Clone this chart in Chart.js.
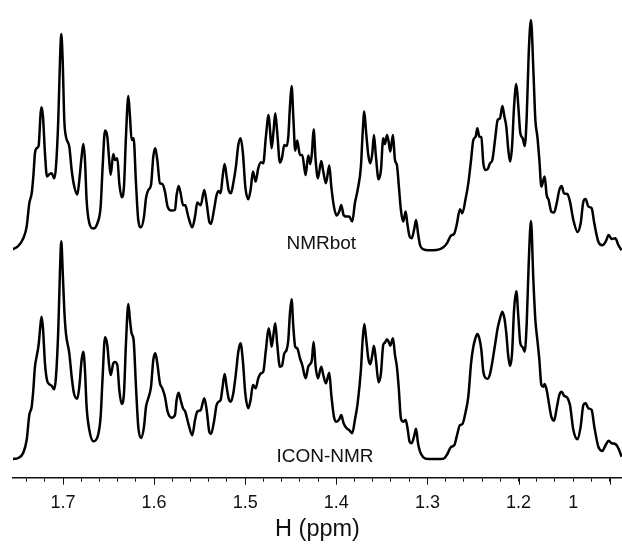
<!DOCTYPE html>
<html>
<head>
<meta charset="utf-8">
<title>NMRbot vs ICON-NMR</title>
<script src="https://cdn.jsdelivr.net/npm/chart.js@4"></script>
<style>
    html, body { margin: 0; padding: 0; background: #fff; }
    canvas { display: block; }
</style>
</head>
<body>
<canvas id="spectra" width="622" height="546"></canvas>
<script>
const ppm = [
    1.7553,1.7491,1.7436,1.7399,1.7370,1.7344,1.7326,1.7308,1.7290,1.7268,
    1.7246,1.7235,1.7220,1.7198,1.7176,1.7150,1.7125,1.7096,1.7077,1.7052,
    1.7033,1.7019,1.7004,1.6986,1.6968,1.6931,1.6905,1.6880,1.6843,1.6821,
    1.6796,1.6777,1.6759,1.6741,1.6711,1.6667,1.6620,1.6587,1.6565,1.6539,
    1.6514,1.6496,1.6477,1.6448,1.6430,1.6404,1.6382,1.6356,1.6331,1.6309,
    1.6283,1.6265,1.6247,1.6225,1.6199,1.6174,1.6144,1.6111,1.6089,1.6064,
    1.6034,1.6009,1.5987,1.5965,1.5936,1.5910,1.5881,1.5852,1.5808,1.5771,
    1.5753,1.5731,1.5709,1.5683,1.5658,1.5625,1.5581,1.5551,1.5526,1.5489,
    1.5449,1.5423,1.5394,
    1.5376,1.5343,1.5314,1.5292,1.5270,1.5248,1.5226,1.5204,1.5182,1.5157,
    1.5131,1.5102,1.5076,1.5051,1.5025,1.4999,1.4966,1.4941,1.4915,1.4886,
    1.4857,1.4827,1.4802,1.4773,1.4743,1.4725,1.4710,1.4688,1.4670,1.4648,
    1.4619,1.4597,1.4571,1.4546,1.4527,1.4509,1.4491,1.4472,1.4451,1.4429,
    1.4399,1.4374,1.4337,1.4308,1.4286,1.4268,1.4249,1.4227,1.4202,1.4165,
    1.4143,1.4114,1.4077,1.4055,1.4026,1.3997,1.3968,1.3946,1.3920,1.3887,
    1.3858,1.3825,1.3796,1.3766,1.3730,1.3711,1.3693,1.3675,1.3649,1.3627,
    1.3605,1.3587,1.3565,1.3536,1.3510,1.3485,1.3466,1.3444,1.3426,1.3408,
    1.3378,1.3356,1.3335,1.3313,1.3291,1.3265,1.3239,1.3221,1.3195,
    1.3173,1.3147,1.3125,1.3103,1.3081,1.3045,1.2990,1.2898,1.2825,1.2781,
    1.2745,1.2704,1.2679,1.2642,1.2617,1.2580,1.2551,1.2521,1.2496,1.2470,
    1.2452,1.2430,1.2408,1.2386,1.2364,1.2338,1.2313,1.2287,1.2258,1.2229,
    1.2203,1.2177,1.2155,1.2134,1.2112,1.2093,1.2071,1.2049,1.2024,1.2002,
    1.1980,1.1954,1.1932,1.1910,1.1888,1.1863,1.1837,1.1815,1.1793,1.1771,
    1.1749,1.1727,1.1713,1.1691,1.1669,1.1640,1.1610,1.1581,1.1552,1.1526,
    1.1501,1.1464,1.1435,1.1398,1.1351,1.1318,1.1288,1.1263,1.1233,1.1197,
    1.1168,1.1124,1.1080,1.1043,1.1010,1.0977,1.0937,1.0904,1.0868
];

// Upper trace, intensity above its own baseline
const nmrbot = [
    1,4.3,12,23.7,47,57,73.7,97,102,104.3,
    137,143,133.7,97,73.7,76,77,72,83.7,130.3,
    190.3,216.3,190.3,130.3,113.7,103.7,80.3,65.3,55.7,70.3,
    93.7,106.3,90.3,50.3,27,21.7,27.7,43.7,83.7,119.7,
    113.7,93.7,75.3,96.3,90.3,92,67,53,63.7,113.7,
    154.3,133.7,110.3,112,67,30.3,23,33.7,52,60.3,
    65.3,93.7,102,90.3,67,66.3,58.7,43.7,39.7,40.3,
    55.3,64.3,57,45.3,45,33.7,23,33.7,47.7,45,
    60.3,47,28.3,
    26.3,40.3,55.3,59.3,57,73.7,86.3,73.7,60.3,57,
    67,83.7,105.3,112,97,63.7,51,60.3,78.7,68.7,
    82,88,87,113.7,135.3,117,102,120.3,137,117,
    87.7,92,105.3,104.3,113.7,143.7,164.3,133.7,99.7,109.7,
    95.3,95.3,75.3,94.7,86.3,97,121,90.3,72,89.3,
    78.7,67,84.7,63.7,43.7,34.7,38.7,45.3,35.3,33.7,
    33.7,28.7,47,60.3,83.7,117,138.7,120.3,95.3,87,
    97,115.3,93.7,71,80.3,112,106.3,115.3,108.7,98.7,
    115.3,90.3,85.3,63.7,40.3,28.7,38.7,27,13.7,
    12,20.3,30.3,17,5.3,1,0,0.3,3,7.7,
    14.3,17,25.3,41,37,52,67,90.3,110.3,113.7,
    122,113.7,113,87,80.3,81.3,87,90.3,110.3,130.3,
    132,144.3,133.7,123.7,100.3,88.7,103.7,143.7,166.3,143.7,
    117,112,104.3,133.7,197,230.3,180.3,130.3,113.7,90.3,
    63.7,70.3,73.7,55.3,50.3,38.7,37.7,47,60.3,64.3,
    57,56.3,48.7,30.3,18.3,27,48.7,51.3,43.7,42,
    27,8.7,5,8.7,15.3,11.3,12,5.3,0
];

// Lower trace, intensity above its own baseline
const iconNmr = [
    0,1,6.3,19,44,52.3,69,92.3,102.3,114,
    135.7,142.3,130.7,95.7,79,74.7,73.3,69.7,82.3,129,
    189,217.7,189,149,125.7,105.7,82.3,65.7,60.3,72.3,
    99,107.3,89,52.3,29,17.7,22.3,42.3,82.3,121.7,
    114,95.7,84,95.7,97,94,69,55,65.7,115.7,
    155,139,125.7,119,72.3,32.3,21,32.3,52.3,60.7,
    72.3,99,105.7,95.7,75.7,70.7,62.3,47.3,41.3,44,
    59,66.3,59,50.7,47.3,35.7,23.7,39,47.3,49,
    60.7,49,27,
    25,37.3,54,57.3,59,72.3,85,72.3,60.7,57.3,
    65.7,85.7,107.3,115.7,97.3,65.7,50.7,59,74,70.7,
    80.7,85.7,87.3,109,130.7,122.3,112.3,125.7,135.7,114,
    92.3,93,105.7,109,119,145.7,159.7,132.3,112.3,110.7,
    100.7,94,80.7,92.3,95,99,117.3,92.3,80.7,92.3,
    84,75.7,86.3,64,42.3,37.3,39.7,44,35.7,30.7,
    29,25.7,39,55.7,89,119,135,122.3,100.7,94.7,
    104,113.3,99,76.7,85.7,114,116.3,119.7,117.3,113.3,
    120.7,104,92.3,69,40.7,37.3,39,32.3,17.3,
    15.7,22.3,30.3,15.7,7.3,1.7,0,0,0.3,5,
    11.7,14,22.3,34,34.7,47.3,62.3,95.7,112.3,121.7,
    125,120.7,109,87.3,81.3,80.3,85,97.3,114,130.7,
    140.7,147.3,140.7,125.7,102.3,93,105.7,149,167.7,142.3,
    115.7,111.7,107.3,135.7,195.7,238,179,139,119,99,
    74,72.3,75,69,57.3,42.3,38.3,50.7,64,67.3,
    63.3,61.3,54,29,19.7,32.3,54,55.7,50.7,49,
    32.3,12.3,8,14,18.3,15.7,15,10.7,2.3
];

// The upper trace is stacked above the lower one
const stackOffset = 208.7;

// Axis ticks
const minorTicks = [1.74,1.72,1.70,1.68,1.66,1.64,1.62,1.60,1.58,1.56,1.54,1.52,1.50,1.48,1.46,1.44,1.42,1.40,1.38,1.36,1.34,1.32,1.30,1.28,1.26,1.24,1.22,1.20,1.18,1.16,1.14,1.12,1.10];
const majorTicks = [1.7,1.6,1.5,1.4,1.3,1.2,1.1];
const labelledTicks = [1.7,1.6,1.5,1.4,1.3,1.2,1.14];
const tickLabels = ['1.7','1.6','1.5','1.4','1.3','1.2','1'];

// Labels under each trace
const traceNames = ['NMRbot','ICON-NMR'];
const traceNamePpm = [1.4165,1.4124];
const traceNameValue = [215,2];

// Draws the longer major ticks and the names of the traces
const spectrumDecor = {
    id: 'spectrumDecor',
    afterDraw(chart) {
        const ctx = chart.ctx;
        const x = chart.scales.x;
        const y = chart.scales.y;
        ctx.save();
        ctx.strokeStyle = '#111';
        ctx.lineWidth = 1;
        majorTicks.forEach(value => {
            const px = Math.round(x.getPixelForValue(value)) + 0.5;
            ctx.beginPath();
            ctx.moveTo(px, x.top);
            ctx.lineTo(px, x.top + 7);
            ctx.stroke();
        });
        ctx.fillStyle = '#111';
        ctx.font = '19px "Liberation Sans"';
        ctx.textAlign = 'center';
        ctx.textBaseline = 'middle';
        traceNames.forEach((name, i) => {
            ctx.fillText(name, x.getPixelForValue(traceNamePpm[i]), y.getPixelForValue(traceNameValue[i]));
        });
        ctx.restore();
    }
};

function toPoints(values, offset) {
    return values.map((value, i) => ({ x: ppm[i], y: value + offset }));
}

function traceDataset(label, values, offset) {
    return {
        label: label,
        data: toPoints(values, offset),
        borderColor: '#000',
        borderWidth: 2.5,
        pointRadius: 0,
        fill: false,
        cubicInterpolationMode: 'monotone'
    };
}

new Chart(document.getElementById('spectra'), {
    type: 'line',
    data: {
        datasets: [
            traceDataset('NMRbot', nmrbot, stackOffset),
            traceDataset('ICON-NMR', iconNmr, 0)
        ]
    },
    options: {
        responsive: false,
        animation: false,
        layout: { padding: { left: 13, right: 0, top: 0, bottom: 0 } },
        plugins: {
            legend: { display: false },
            tooltip: { enabled: false }
        },
        scales: {
            x: {
                type: 'linear',
                reverse: true,
                min: 1.0864,
                max: 1.7549,
                afterBuildTicks: scale => {
                    scale.ticks = minorTicks.map(value => ({ value: value }));
                },
                afterFit: scale => {
                    scale.height = 68.3;
                },
                border: { display: true, color: '#111', width: 1.5 },
                grid: { drawOnChartArea: false, drawTicks: true, tickLength: 4, color: '#111', lineWidth: 1 },
                ticks: {
                    autoSkip: false,
                    maxRotation: 0,
                    padding: 11,
                    color: '#111',
                    font: { family: '"Liberation Sans"', size: 18 },
                    callback: value => {
                        const i = labelledTicks.findIndex(t => Math.abs(t - value) < 1e-6);
                        return i >= 0 ? tickLabels[i] : '';
                    }
                },
                title: {
                    display: true,
                    text: 'H (ppm)',
                    color: '#111',
                    font: { family: '"Liberation Sans"', size: 23.5 },
                    padding: { top: 0, bottom: 2 }
                }
            },
            y: {
                display: false,
                min: -18.7,
                max: 459
            }
        }
    },
    plugins: [spectrumDecor]
});
</script>
</body>
</html>
